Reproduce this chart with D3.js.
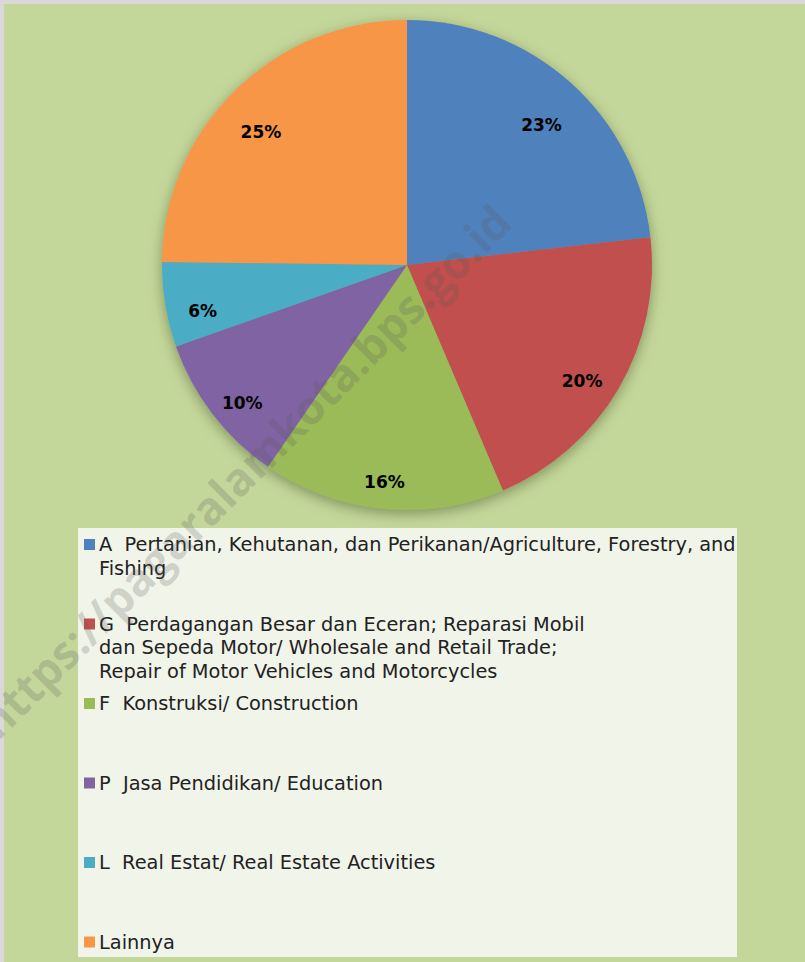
<!DOCTYPE html>
<html>
<head>
<meta charset="utf-8">
<script src="https://cdn.jsdelivr.net/npm/d3@7"></script>
<style>
  html, body { margin: 0; padding: 0; background: #ffffff; }
  svg { display: block; }
  text { white-space: pre; }
</style>
</head>
<body>
<div id="chart"></div>
<script>
// share of each sector (percent)
const categories = ['A', 'G', 'F', 'P', 'L', 'Lainnya'];
const values = [23.2, 20.4, 16.0, 10.0, 5.6, 24.8];
const colors = ['#4f81bd', '#c0504d', '#9bbb59', '#8064a2', '#4bacc6', '#f79646'];
const legendLines = [
    ['A  Pertanian, Kehutanan, dan Perikanan/Agriculture, Forestry, and', 'Fishing'],
    ['G  Perdagangan Besar dan Eceran; Reparasi Mobil', 'dan Sepeda Motor/ Wholesale and Retail Trade;', 'Repair of Motor Vehicles and Motorcycles'],
    ['F  Konstruksi/ Construction'],
    ['P  Jasa Pendidikan/ Education'],
    ['L  Real Estat/ Real Estate Activities'],
    ['Lainnya']
];
const watermark = 'https://pagaralamkota.bps.go.id';

const width = 805, height = 962;
const cx = 407, cy = 265, radius = 245;
const legendBox = {x: 78, y: 528, w: 659, h: 429};

const svg = d3.select('#chart').append('svg')
    .attr('width', width)
    .attr('height', height)
    .attr('viewBox', [0, 0, width, height]);

// page frame: grey edge on top and left, green chart area
svg.append('rect').attr('width', width).attr('height', height).attr('fill', '#d9d9d9');
svg.append('rect').attr('x', 4).attr('y', 4).attr('width', width - 4).attr('height', height - 4).attr('fill', '#c4d79b');

const defs = svg.append('defs');
const shadow = defs.append('filter').attr('id', 'pie-shadow')
    .attr('x', '-20%').attr('y', '-20%').attr('width', '140%').attr('height', '140%');
shadow.append('feDropShadow')
    .attr('dx', 0).attr('dy', 4)
    .attr('stdDeviation', 7)
    .attr('flood-color', '#4a5a2a')
    .attr('flood-opacity', 0.55);

const data = categories.map((c, i) => ({cat: c, value: values[i], color: colors[i], lines: legendLines[i]}));
const total = d3.sum(values);

const pie = d3.pie().sort(null).value(d => d.value);
const arc = d3.arc().innerRadius(0).outerRadius(radius);
const labelArc = d3.arc().innerRadius(205).outerRadius(205);

const pieG = svg.append('g').attr('transform', `translate(${cx},${cy})`);

pieG.append('g')
    .attr('filter', 'url(#pie-shadow)')
    .selectAll('path')
    .data(pie(data))
    .join('path')
    .attr('d', arc)
    .attr('fill', d => d.data.color);

// labels sit a little below the arc centroid, as the spreadsheet placed them
pieG.append('g')
    .selectAll('text')
    .data(pie(data))
    .join('text')
    .attr('transform', d => {
        const [x, y] = labelArc.centroid(d);
        return `translate(${x - 2}, ${y + 13})`;
    })
    .attr('text-anchor', 'middle')
    .attr('dy', '0.36em')
    .attr('font-family', '"DejaVu Sans", sans-serif')
    .attr('font-weight', 'bold')
    .attr('font-size', 17)
    .attr('fill', '#000')
    .text(d => `${Math.round(d.data.value / total * 100)}%`);

// legend
svg.append('rect')
    .attr('x', legendBox.x).attr('y', legendBox.y)
    .attr('width', legendBox.w).attr('height', legendBox.h)
    .attr('fill', '#f1f4e9');

const entryStep = 79.5, lineStep = 23.5;
const entries = svg.append('g')
    .selectAll('g')
    .data(data)
    .join('g')
    .attr('transform', (d, i) => `translate(${legendBox.x}, ${legendBox.y + 16.5 + i * entryStep})`);

entries.append('rect')
    .attr('x', 6).attr('y', -5.5)
    .attr('width', 11).attr('height', 11)
    .attr('fill', d => d.color);

const legendTexts = entries.append('text')
    .attr('x', 21)
    .attr('font-family', '"DejaVu Sans", sans-serif')
    .attr('font-size', 17)
    .attr('fill', '#222');

legendTexts.selectAll('tspan')
    .data(d => d.lines)
    .join('tspan')
    .attr('x', 21)
    .attr('y', (l, j) => j * lineStep)
    .attr('dy', '0.36em')
    .text(l => l);

// fit the longest legend line to the box width
const firstLine = legendTexts.select('tspan').node();
const w0 = firstLine.getComputedTextLength();
const fs = Math.min(19.5, 17 * (legendBox.w - 22) / w0);
legendTexts.attr('font-size', fs);

// watermark
svg.append('text')
    .attr('transform', 'translate(245, 472) rotate(-45)')
    .attr('text-anchor', 'middle')
    .attr('dy', '0.35em')
    .attr('font-family', '"Open Sans", sans-serif')
    .attr('font-weight', 'bold')
    .attr('font-size', 46)
    .attr('textLength', 730)
    .attr('lengthAdjust', 'spacingAndGlyphs')
    .attr('fill', '#5a5a5a')
    .attr('fill-opacity', 0.22)
    .text(watermark);
</script>
</body>
</html>
